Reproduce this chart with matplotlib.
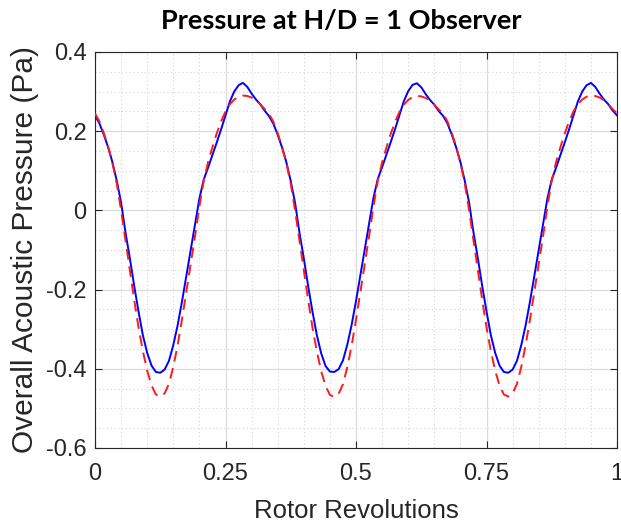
import numpy as np
import matplotlib
matplotlib.use("Agg")
import matplotlib.pyplot as plt
from matplotlib.ticker import MultipleLocator

title = "Pressure at H/D = 1 Observer"
xlabel = "Rotor Revolutions"
ylabel = "Overall Acoustic Pressure (Pa)"
xticks = [0, 0.25, 0.5, 0.75, 1]
xticklabels = ["0", "0.25", "0.5", "0.75", "1"]
yticks = [-0.6, -0.4, -0.2, 0, 0.2, 0.4]
yticklabels = ["-0.6", "-0.4", "-0.2", "0", "0.2", "0.4"]

# sample positions (rotor revolutions), 120 steps per revolution
revolutions = np.linspace(0, 1, 121)

pressure_blue = [
    0.240, 0.220, 0.192, 0.160, 0.122, 0.075, 0.020, -0.055, -0.120, -0.190,
    -0.255, -0.315, -0.360, -0.392, -0.408, -0.410, -0.402, -0.380, -0.340, -0.290,
    -0.230, -0.165, -0.100, -0.035, 0.030, 0.078, 0.108, 0.140, 0.172, 0.205,
    0.240, 0.275, 0.300, 0.316, 0.322, 0.312, 0.295, 0.280, 0.268, 0.252,
    0.238, 0.219, 0.191, 0.159, 0.121, 0.074, 0.019, -0.056, -0.121, -0.191,
    -0.256, -0.315, -0.361, -0.393, -0.407, -0.408, -0.401, -0.379, -0.339, -0.289,
    -0.229, -0.164, -0.099, -0.034, 0.031, 0.079, 0.109, 0.141, 0.173, 0.206,
    0.241, 0.276, 0.301, 0.317, 0.321, 0.311, 0.294, 0.279, 0.267, 0.251,
    0.239, 0.220, 0.192, 0.160, 0.122, 0.075, 0.020, -0.055, -0.120, -0.190,
    -0.255, -0.315, -0.360, -0.392, -0.408, -0.410, -0.402, -0.380, -0.340, -0.290,
    -0.230, -0.165, -0.100, -0.035, 0.030, 0.078, 0.108, 0.140, 0.172, 0.205,
    0.240, 0.275, 0.300, 0.316, 0.322, 0.312, 0.295, 0.280, 0.268, 0.252,
    0.240,
]

pressure_red = [
    0.245, 0.225, 0.196, 0.162, 0.120, 0.068, 0.000, -0.075, -0.150, -0.225,
    -0.295, -0.355, -0.405, -0.442, -0.465, -0.470, -0.462, -0.438, -0.395, -0.340,
    -0.275, -0.205, -0.135, -0.065, 0.010, 0.075, 0.122, 0.160, 0.195, 0.225,
    0.250, 0.268, 0.280, 0.287, 0.290, 0.289, 0.285, 0.278, 0.268, 0.256,
    0.244, 0.224, 0.195, 0.161, 0.119, 0.067, -0.001, -0.076, -0.151, -0.226,
    -0.296, -0.356, -0.406, -0.443, -0.466, -0.471, -0.463, -0.439, -0.396, -0.341,
    -0.276, -0.206, -0.136, -0.066, 0.009, 0.074, 0.121, 0.159, 0.194, 0.224,
    0.249, 0.267, 0.279, 0.286, 0.289, 0.288, 0.284, 0.277, 0.267, 0.255,
    0.245, 0.225, 0.196, 0.162, 0.120, 0.068, 0.000, -0.075, -0.150, -0.225,
    -0.295, -0.355, -0.405, -0.442, -0.465, -0.470, -0.462, -0.438, -0.395, -0.340,
    -0.275, -0.205, -0.135, -0.065, 0.010, 0.075, 0.122, 0.160, 0.195, 0.225,
    0.250, 0.268, 0.280, 0.287, 0.290, 0.289, 0.285, 0.278, 0.268, 0.256,
    0.245,
]

plt.rcParams['font.family'] = ['Liberation Sans', 'DejaVu Sans']

fig = plt.figure(figsize=(6.21, 5.24), dpi=100)
ax = fig.add_axes([95/621, 1-448/524, (617-95)/621, (448-52)/524])

ax.plot(revolutions, pressure_blue, color='#0000ff', lw=1.4, zorder=3)
ax.plot(revolutions, pressure_red, color='#ff1a1a', lw=1.4, ls=(0, (5.5, 3.5)), zorder=4)

ax.set_xlim(0, 1)
ax.set_ylim(-0.6, 0.4)
ax.set_xticks(xticks)
ax.set_xticklabels(xticklabels)
ax.set_yticks(yticks)
ax.set_yticklabels(yticklabels)
ax.xaxis.set_minor_locator(MultipleLocator(0.05))
ax.yaxis.set_minor_locator(MultipleLocator(0.05))

ax.grid(which='major', color='#dcdcdc', lw=0.9, ls='-')
ax.grid(which='minor', color='#dcdcdc', lw=0.8, ls=(0, (1.2, 2.2)))
ax.set_axisbelow(True)

ax.tick_params(which='major', direction='in', length=5, width=0.8, colors='#262626',
               top=True, right=True, labelsize=17)
ax.tick_params(axis='x', which='major', pad=11)
ax.tick_params(axis='y', which='major', pad=6)
ax.tick_params(which='minor', length=0, top=True, right=True)
for s in ax.spines.values():
    s.set_color('#262626')
    s.set_linewidth(0.8)

ax.set_xlabel(xlabel, fontsize=18.5, color='#262626', labelpad=10)
ax.set_ylabel(ylabel, fontsize=21.5, color='#262626', labelpad=5)

fig.text(341/621, 1-21/524, title, ha='center', va='center', fontsize=19.5,
         fontweight='bold', family=['Lato', 'DejaVu Sans'], color='black')

fig.savefig('out.png', dpi=100)
